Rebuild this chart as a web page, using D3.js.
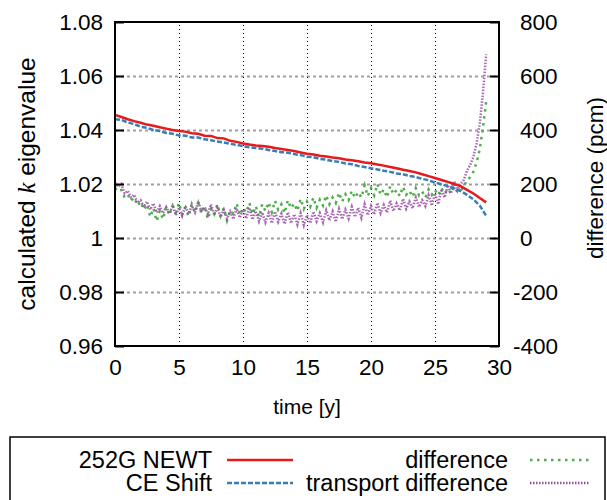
<!DOCTYPE html>
<html>
<head>
<meta charset="utf-8">
<script src="https://cdn.jsdelivr.net/npm/d3@7"></script>
<style>
  body { margin: 0; background: #fff; }
  svg { display: block; font-family: "Liberation Sans", Arial, sans-serif; }
</style>
</head>
<body>
<div id="chart"></div>
<script>
// k eigenvalue series, sampled every 0.5 y
var kTimes = d3.range(0, 29.01, 0.5);
var newt = [1.0456, 1.0448, 1.0440, 1.0433, 1.0427, 1.0420, 1.0416, 1.0410, 1.0405, 1.0400,
  1.0396, 1.0394, 1.0388, 1.0386, 1.0379, 1.0378, 1.0370, 1.0369, 1.0360, 1.0356,
  1.0350, 1.0346, 1.0343, 1.0341, 1.0338, 1.0333, 1.0330, 1.0326, 1.0322, 1.0317,
  1.0312, 1.0309, 1.0305, 1.0302, 1.0298, 1.0295, 1.0291, 1.0288, 1.0284, 1.0280,
  1.0277, 1.0272, 1.0268, 1.0263, 1.0258, 1.0253, 1.0248, 1.0243, 1.0236, 1.0229,
  1.0222, 1.0215, 1.0208, 1.0200, 1.0192, 1.0178, 1.0165, 1.0148, 1.0132];
var ceShift = [1.0440, 1.0437, 1.0428, 1.0422, 1.0412, 1.0408, 1.0400, 1.0396, 1.0389, 1.0386,
  1.0380, 1.0379, 1.0372, 1.0372, 1.0366, 1.0362, 1.0357, 1.0354, 1.0349, 1.0345,
  1.0340, 1.0336, 1.0333, 1.0331, 1.0326, 1.0322, 1.0318, 1.0316, 1.0311, 1.0307,
  1.0301, 1.0299, 1.0293, 1.0290, 1.0285, 1.0282, 1.0276, 1.0273, 1.0267, 1.0263,
  1.0258, 1.0254, 1.0249, 1.0245, 1.0239, 1.0236, 1.0230, 1.0226, 1.0219, 1.0214,
  1.0205, 1.0199, 1.0192, 1.0184, 1.0174, 1.0160, 1.0143, 1.0120, 1.0082];

// differences in pcm, sampled every 0.25 y
var diffTimes = d3.range(0, 29.001, 0.25);
var diff = [185, 172, 178, 150, 160, 138, 150, 120, 135, 105, 125, 78,
  110, 62, 100, 70, 115, 85, 120, 95, 130, 88, 112, 80,
  125, 95, 130, 92, 118, 70, 108, 88, 125, 82, 110, 65,
  102, 90, 128, 85, 112, 95, 130, 88, 118, 78, 125, 100,
  132, 95, 138, 105, 125, 92, 140, 110, 128, 100, 145, 108,
  135, 115, 150, 112, 142, 120, 158, 125, 150, 130, 168, 135,
  162, 140, 175, 148, 170, 150, 195, 155, 185, 158, 200, 160,
  180, 150, 192, 162, 178, 155, 190, 160, 175, 152, 185, 158,
  172, 150, 180, 160, 178, 158, 185, 165, 182, 165, 190, 170,
  175, 190, 215, 225, 245, 280, 330, 410, 505];
var transportDiff = [205, 190, 200, 165, 175, 150, 160, 130, 140, 115, 135, 105,
  128, 95, 118, 92, 115, 90, 120, 85, 112, 82, 118, 90,
  120, 95, 135, 100, 115, 88, 125, 85, 112, 78, 105, 72,
  98, 70, 110, 75, 105, 72, 112, 68, 100, 62, 95, 58,
  92, 55, 98, 60, 90, 52, 95, 55, 88, 50, 92, 48,
  85, 55, 98, 62, 92, 58, 102, 65, 98, 60, 108, 70,
  105, 72, 115, 78, 112, 75, 125, 85, 118, 88, 130, 92,
  122, 95, 138, 100, 128, 102, 145, 108, 135, 110, 150, 115,
  140, 118, 158, 120, 165, 125, 180, 150, 195, 165, 210, 175,
  200, 215, 250, 270, 300, 350, 425, 540, 680];

var timeTicks = [0, 5, 10, 15, 20, 25, 30];
var kTicks = [0.96, 0.98, 1.00, 1.02, 1.04, 1.06, 1.08];
var pcmTicks = [-400, -200, 0, 200, 400, 600, 800];

var legendNames = ['252G NEWT', 'CE Shift', 'difference', 'transport difference'];
var colors = ['#e41a1c', '#377eb8', '#4daf4a', '#984ea3'];

var w = 607, h = 500;
var mLeft = 115, mRight = 499, mTop = 22, mBottom = 346;
var tickFs = 22.5, titleFs = 23.5;

var svg = d3.select('#chart').append('svg').attr('width', w).attr('height', h);

var x = d3.scaleLinear().domain([0, 30]).range([mLeft, mRight]);
var y = d3.scaleLinear().domain([0.96, 1.08]).range([mBottom, mTop]);
var y2 = d3.scaleLinear().domain([-400, 800]).range([mBottom, mTop]);

// grid
var hgrid = svg.append('g').attr('transform', 'translate(' + mLeft + ',0)')
  .call(d3.axisLeft(y).tickValues(kTicks.slice(1, -1)).tickSize(-(mRight - mLeft)).tickFormat(''));
hgrid.select('.domain').remove();
hgrid.selectAll('line').attr('stroke', '#a0a0a0').attr('stroke-width', 2).attr('stroke-dasharray', '3,3');

var vgrid = svg.append('g').attr('transform', 'translate(0,' + mBottom + ')')
  .call(d3.axisBottom(x).tickValues(timeTicks.slice(1, -1)).tickSize(-(mBottom - mTop)).tickFormat(''));
vgrid.select('.domain').remove();
vgrid.selectAll('line').attr('stroke', '#000').attr('stroke-width', 1).attr('stroke-dasharray', '1,3');

// lines
var kLine = function (vals) {
  return d3.line().x(function (d, i) { return x(kTimes[i]); }).y(function (d) { return y(d); })(vals);
};
var pLine = function (vals) {
  return d3.line().x(function (d, i) { return x(diffTimes[i]); }).y(function (d) { return y2(d); })(vals);
};

var plot = svg.append('g');
plot.append('path').attr('d', pLine(diff)).attr('fill', 'none')
  .attr('stroke', colors[2]).attr('stroke-width', 2.5).attr('stroke-dasharray', '2.5,4.5');
plot.append('path').attr('d', pLine(transportDiff)).attr('fill', 'none')
  .attr('stroke', colors[3]).attr('stroke-width', 2.5).attr('stroke-dasharray', '1.5,1.5').attr('opacity', 0.85);
plot.append('path').attr('d', kLine(ceShift)).attr('fill', 'none')
  .attr('stroke', colors[1]).attr('stroke-width', 2.5).attr('stroke-dasharray', '5,2');
plot.append('path').attr('d', kLine(newt)).attr('fill', 'none')
  .attr('stroke', colors[0]).attr('stroke-width', 2.5);

// axes
var ax = svg.append('g').attr('transform', 'translate(' + mLeft + ',0)')
  .call(d3.axisLeft(y).tickValues(kTicks).tickSizeInner(-9).tickSizeOuter(0).tickPadding(12)
    .tickFormat(function (d) { return d === 1 ? '1' : d3.format('.2f')(d); }));
ax.select('.domain').remove();
ax.selectAll('line').attr('stroke-width', 2);
ax.selectAll('text').attr('font-size', tickFs).attr('font-family', null);

var ax2 = svg.append('g').attr('transform', 'translate(' + mRight + ',0)')
  .call(d3.axisRight(y2).tickValues(pcmTicks).tickSizeInner(-9).tickSizeOuter(0).tickPadding(21));
ax2.select('.domain').remove();
ax2.selectAll('line').attr('stroke-width', 2);
ax2.selectAll('text').attr('font-size', tickFs).attr('font-family', null)
  .attr('x', function (d) { return d < 0 ? 14 : 21; })
  .text(function (d) { return d < 0 ? '-' + Math.abs(d) : d; });

var axb = svg.append('g').attr('transform', 'translate(0,' + mBottom + ')')
  .call(d3.axisBottom(x).tickValues(timeTicks).tickSize(0).tickPadding(13));
axb.select('.domain').remove();
axb.selectAll('text').attr('font-size', tickFs).attr('font-family', null);

svg.append('rect').attr('x', mLeft).attr('y', mTop).attr('width', mRight - mLeft).attr('height', mBottom - mTop)
  .attr('fill', 'none').attr('stroke', '#000').attr('stroke-width', 2);

// axis titles
svg.append('text').attr('x', (mLeft + mRight) / 2).attr('y', 414).attr('text-anchor', 'middle')
  .attr('font-size', 21).text('time [y]');

var yl = svg.append('text').attr('transform', 'translate(35,184) rotate(-90)')
  .attr('text-anchor', 'middle').attr('font-size', 24.5);
yl.append('tspan').text('calculated ');
yl.append('tspan').attr('font-style', 'italic').attr('font-family', '"Liberation Serif", serif').text('k');
yl.append('tspan').text(' eigenvalue');

svg.append('text').attr('transform', 'translate(603,178) rotate(-90)')
  .attr('text-anchor', 'middle').attr('font-size', 22.5).text('difference (pcm)');

// legend
svg.append('rect').attr('x', 10).attr('y', 437).attr('width', 595).attr('height', 90)
  .attr('fill', 'none').attr('stroke', '#000').attr('stroke-width', 1.5);

var legendPos = [
  {tx: 212, l0: 227, l1: 293, y: 460},
  {tx: 212, l0: 227, l1: 293, y: 483},
  {tx: 508, l0: 530, l1: 590, y: 460},
  {tx: 508, l0: 530, l1: 590, y: 483}
];
var legendDash = [null, '5,2', '2.5,4.5', '1.5,1.5'];

var lg = svg.append('g').selectAll('g').data(legendNames).enter().append('g');
lg.append('text').attr('x', function (d, i) { return legendPos[i].tx; })
  .attr('y', function (d, i) { return legendPos[i].y; }).attr('dy', '0.35em')
  .attr('text-anchor', 'end').attr('font-size', titleFs).text(function (d) { return d; });
lg.append('line')
  .attr('x1', function (d, i) { return legendPos[i].l0; })
  .attr('x2', function (d, i) { return legendPos[i].l1; })
  .attr('y1', function (d, i) { return legendPos[i].y; })
  .attr('y2', function (d, i) { return legendPos[i].y; })
  .attr('stroke', function (d, i) { return colors[i]; })
  .attr('stroke-width', 2.5)
  .attr('stroke-dasharray', function (d, i) { return legendDash[i]; });
</script>
</body>
</html>
